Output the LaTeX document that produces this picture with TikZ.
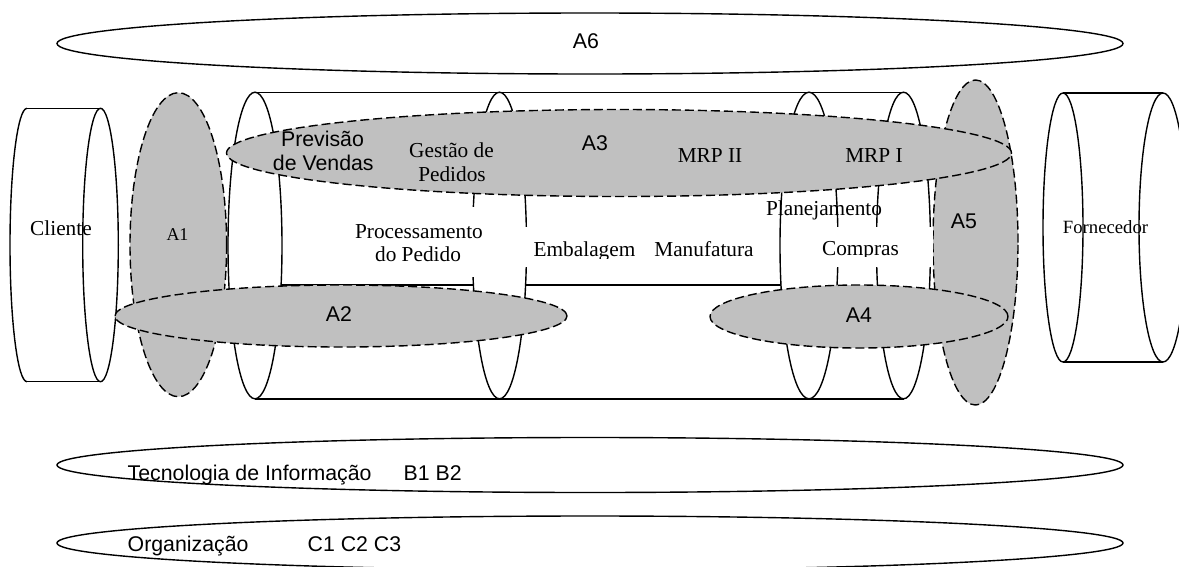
\documentclass[tikz,border=0pt]{standalone}
\usepackage{fontspec}
\setmainfont{Liberation Serif}
\setsansfont{Liberation Sans}
\definecolor{zonegray}{RGB}{192,192,192}
\begin{document}
\begin{tikzpicture}[x=1pt,y=-1pt,line width=1.4pt,
  ring/.style={draw=black,fill=white},
  zone/.style={draw=black,fill=zonegray,dash pattern=on 9pt off 4pt},
  mask/.style={fill=white,draw=none},
  serif/.style={font=\fontsize{21.3}{24}\selectfont,inner sep=0pt,anchor=base},
  sans/.style={font=\sffamily\fontsize{21.3}{24}\selectfont,inner sep=0pt,anchor=base},
  small/.style={font=\fontsize{18.7}{22}\selectfont}]
\useasboundingbox (0,0) rectangle (1179,566);

% outer layers
\draw[ring] (590,43.5) ellipse [x radius=533pt,y radius=30.5pt];
\draw[ring] (590,465) ellipse [x radius=533pt,y radius=27.5pt];
\draw[ring] (590,543) ellipse [x radius=533pt,y radius=27pt];

% customer drum
\draw (27,108.3) -- (100.5,108.3) (27,381.7) -- (100.5,381.7);
\draw (27,108.3) arc [start angle=90,end angle=270,x radius=17pt,y radius=136.7pt];
\draw[ring] (100.5,245) ellipse [x radius=17.8pt,y radius=136.7pt];

% supplier drum
\draw (1063,93) -- (1163,93) (1063,362) -- (1163,362);
\draw[ring] (1063,227.5) ellipse [x radius=20pt,y radius=134.5pt];
\draw[ring] (1163,227.5) ellipse [x radius=24pt,y radius=134.5pt];

% company pipe
\draw (255,285) -- (809,285);
\draw (255,92.2) -- (903.5,92.2) (255,398.8) -- (903.5,398.8);
\draw[ring] (255,245.5) ellipse [x radius=27pt,y radius=153.3pt];
\draw[ring] (499.5,245.5) ellipse [x radius=27pt,y radius=153.3pt];
\draw[ring] (809,245.5) ellipse [x radius=29pt,y radius=153.3pt];
\draw[ring] (903.5,245.5) ellipse [x radius=27pt,y radius=153.3pt];

% vertical zones
\draw[zone] (178.3,244.7) ellipse [x radius=48.3pt,y radius=152pt];
\draw[zone] (975.5,242.5) ellipse [x radius=42.5pt,y radius=162.5pt];

% label frames
\fill[mask] (345,207) rectangle (490,277);
\fill[mask] (520,227) rectangle (650,267);
\fill[mask] (782,226.7) rectangle (932.7,266.7);

% horizontal zones
\draw[zone] (341,316) ellipse [x radius=226pt,y radius=31pt];
\draw[zone] (619,153) ellipse [x radius=392.5pt,y radius=43.5pt];
\draw[zone] (859,316.5) ellipse [x radius=149pt,y radius=31.5pt];

% texts
\node[sans] (a6) at (586,48.3) {A6};
\node[sans,anchor=base west] (ti) at (127,480) {Tecnologia de Informação};
\node[sans,anchor=base west] (bb) at (403,480) {B1 B2};
\node[sans,anchor=base west] (org) at (127,551.7) {Organização};
\node[sans,anchor=base west] (cc) at (307,551.7) {C1 C2 C3};
\node[serif] (cli) at (61,235) {Cliente};
\node[serif,font=\fontsize{18}{21}\selectfont] (a1) at (177.5,240) {A1};
\node[sans] (prev1) at (322.5,146.7) {Previsão};
\node[sans] (prev2) at (323.3,170.7) {de Vendas};
\node[serif] (gest1) at (451.5,157.3) {Gestão de};
\node[serif] (gest2) at (452,181.7) {Pedidos};
\node[sans] (a3) at (595,150) {A3};
\node[serif] (mrp2) at (710,162.7) {MRP II};
\node[serif] (mrp1) at (874,162.7) {MRP I};
\node[serif] (proc1) at (419,238.3) {Processamento};
\node[serif] (proc2) at (418,261.7) {do Pedido};
\begin{scope}
  \clip (520,200) rectangle (650,258.3);
  \node[serif] (emb) at (584.5,256.7) {Embalagem};
\end{scope}
\node[serif] (manu) at (704,256) {Manufatura};
\node[serif] (plan) at (824,215) {Planejamento};
\begin{scope}
  \clip (782,200) rectangle (932,256.5);
  \node[serif] (comp) at (860.5,255) {Compras};
\end{scope}
\node[sans] (a5) at (964,228.3) {A5};
\node[sans] (a2) at (339,321.7) {A2};
\node[sans] (a4) at (859,322) {A4};
\node[serif,small] (forn) at (1105.5,233) {Fornecedor};
\end{tikzpicture}
\end{document}
